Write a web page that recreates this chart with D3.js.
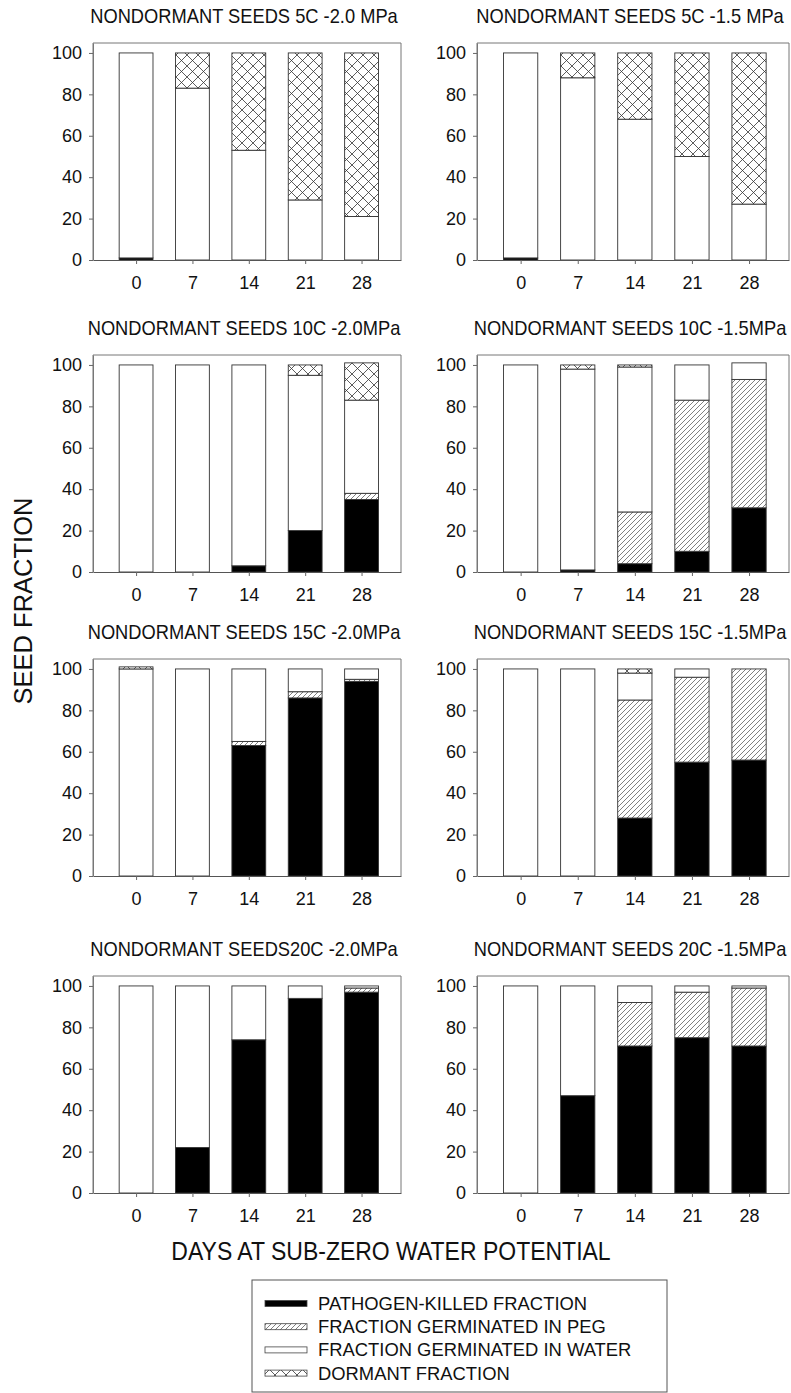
<!DOCTYPE html>
<html>
<head>
<meta charset="utf-8">
<script src="https://cdn.jsdelivr.net/npm/d3@7"></script>
<style>
  html, body { margin: 0; padding: 0; background: #fff; }
  svg { display: block; }
  text { font-family: "Liberation Sans", Arial, sans-serif; fill: #111; }
</style>
</head>
<body>
<script>
// ---- data ----
const days = [0, 7, 14, 21, 28];
const yTicks = [0, 20, 40, 60, 80, 100];
const titles = [
  "NONDORMANT SEEDS 5C -2.0 MPa",
  "NONDORMANT SEEDS 5C -1.5 MPa",
  "NONDORMANT SEEDS 10C -2.0MPa",
  "NONDORMANT SEEDS 10C -1.5MPa",
  "NONDORMANT SEEDS 15C -2.0MPa",
  "NONDORMANT SEEDS 15C -1.5MPa",
  "NONDORMANT SEEDS20C -2.0MPa",
  "NONDORMANT SEEDS 20C -1.5MPa"
];
const killed = [
  [1, 0, 0, 0, 0],
  [1, 0, 0, 0, 0],
  [0, 0, 3, 20, 35],
  [0, 1, 4, 10, 31],
  [0, 0, 63, 86, 94],
  [0, 0, 28, 55, 56],
  [0, 22, 74, 94, 97],
  [0, 47, 71, 75, 71]
];
const peg = [
  [0, 0, 0, 0, 0],
  [0, 0, 0, 0, 0],
  [0, 0, 0, 0, 3],
  [0, 0, 25, 73, 62],
  [0, 0, 2, 3, 1],
  [0, 0, 57, 41, 44],
  [0, 0, 0, 0, 2],
  [0, 0, 21, 22, 28]
];
const water = [
  [99, 83, 53, 29, 21],
  [99, 88, 68, 50, 27],
  [100, 100, 97, 75, 45],
  [100, 97, 70, 17, 8],
  [100, 100, 35, 11, 5],
  [100, 100, 13, 4, 0],
  [100, 78, 26, 6, 1],
  [100, 53, 8, 3, 1]
];
const dormant = [
  [0, 17, 47, 71, 79],
  [0, 12, 32, 50, 73],
  [0, 0, 0, 5, 18],
  [0, 2, 1, 0, 0],
  [1, 0, 0, 0, 0],
  [0, 0, 2, 0, 0],
  [0, 0, 0, 0, 0],
  [0, 0, 0, 0, 0]
];
const seriesKeys = ["killed", "peg", "water", "dormant"];
const legendLabels = [
  "PATHOGEN-KILLED FRACTION",
  "FRACTION GERMINATED IN PEG",
  "FRACTION GERMINATED IN WATER",
  "DORMANT FRACTION"
];
const xTitle = "DAYS AT SUB-ZERO WATER POTENTIAL";
const yTitle = "SEED FRACTION";

// ---- layout ----
const W = 791, H = 1393;
const cols = [{ l: 93, r: 401 }, { l: 477, r: 789 }];
const rows = [{ y0: 260 }, { y0: 572 }, { y0: 876 }, { y0: 1193 }];
const plotH = 217; // from value 0 to frame top
const fills = { killed: "#000", peg: "url(#hatch)", water: "#fff", dormant: "url(#cross)" };

const svg = d3.select("body").append("svg").attr("width", W).attr("height", H);
const defs = svg.append("defs");
const hatch = defs.append("pattern").attr("id", "hatch").attr("patternUnits", "userSpaceOnUse")
  .attr("width", 5).attr("height", 5);
hatch.append("rect").attr("width", 5).attr("height", 5).attr("fill", "#fff");
hatch.append("path").attr("d", "M-1,1 L1,-1 M0,5 L5,0 M4,6 L6,4")
  .attr("stroke", "#555").attr("stroke-width", 0.75);
const cross = defs.append("pattern").attr("id", "cross").attr("patternUnits", "userSpaceOnUse")
  .attr("width", 11).attr("height", 11);
cross.append("rect").attr("width", 11).attr("height", 11).attr("fill", "#fff");
cross.append("path").attr("d", "M0,0 L11,11 M11,0 L0,11")
  .attr("stroke", "#333").attr("stroke-width", 0.8);

const stack = d3.stack().keys(seriesKeys);

titles.forEach((title, i) => {
  const c = cols[i % 2], r = rows[Math.floor(i / 2)];
  const x = d3.scaleLinear().domain([-5.35, 32.9]).range([c.l, c.r]);
  const y = d3.scaleLinear().domain([0, 104.8]).range([r.y0, r.y0 - plotH]);
  const g = svg.append("g");

  const table = days.map((d, j) => ({
    day: d, killed: killed[i][j], peg: peg[i][j], water: water[i][j], dormant: dormant[i][j]
  }));
  const stacked = stack(table);
  const bw = x(4.2) - x(0);

  stacked.forEach(s => {
    g.append("g").selectAll("rect").data(s.filter(d => d[1] - d[0] > 0)).join("rect")
      .attr("x", d => x(d.data.day) - bw / 2)
      .attr("y", d => y(d[1]))
      .attr("width", bw)
      .attr("height", d => y(d[0]) - y(d[1]))
      .attr("fill", fills[s.key])
      .attr("stroke", "#333")
      .attr("stroke-width", 0.9);
  });

  // frame
  g.append("path")
    .attr("d", `M${c.l},${r.y0} V${y(104.8)} H${c.r} V${r.y0}`)
    .attr("fill", "none").attr("stroke", "#777").attr("stroke-width", 1);

  const xa = g.append("g").attr("transform", `translate(0,${r.y0})`)
    .call(d3.axisBottom(x).tickValues(days).tickFormat(d3.format("d")).tickSizeOuter(0).tickSizeInner(4).tickPadding(12));
  xa.select(".domain").attr("stroke", "#555");
  xa.selectAll(".tick line").attr("stroke", "#666");
  xa.selectAll("text").attr("font-size", 18).attr("fill", "#111")
    .style("font-family", "'Liberation Sans', Arial, sans-serif");

  const ya = g.append("g").attr("transform", `translate(${c.l},0)`)
    .call(d3.axisLeft(y).tickValues(yTicks).tickSizeOuter(0).tickSizeInner(4).tickPadding(7));
  ya.select(".domain").attr("stroke", "#777");
  ya.selectAll(".tick line").attr("stroke", "#666");
  ya.selectAll("text").attr("font-size", 18).attr("fill", "#111")
    .style("font-family", "'Liberation Sans', Arial, sans-serif");

  g.append("text")
    .attr("transform", `translate(${(c.l + c.r) / 2 - 3},${y(104.8) - 20}) scale(1,1.08)`)
    .attr("text-anchor", "middle").attr("font-size", 18.3).text(title);
});

// axis titles
svg.append("text")
  .attr("transform", "translate(391,1260) scale(1,1.15)")
  .attr("text-anchor", "middle").attr("font-size", 23).text(xTitle);
svg.append("text")
  .attr("transform", "translate(32,601) rotate(-90)")
  .attr("text-anchor", "middle").attr("font-size", 25.5).text(yTitle);

// legend
const lg = svg.append("g");
lg.append("rect").attr("x", 252).attr("y", 1280).attr("width", 415).attr("height", 112)
  .attr("fill", "#fff").attr("stroke", "#555").attr("stroke-width", 1);
seriesKeys.forEach((k, i) => {
  const by = 1310 + i * 23.2;
  lg.append("rect").attr("x", 265).attr("y", by - 9.5).attr("width", 42).attr("height", 6)
    .attr("fill", fills[k]).attr("stroke", "#444").attr("stroke-width", 0.8);
  lg.append("text").attr("x", 318).attr("y", by).attr("font-size", 18.4).text(legendLabels[i]);
});
</script>
</body>
</html>
